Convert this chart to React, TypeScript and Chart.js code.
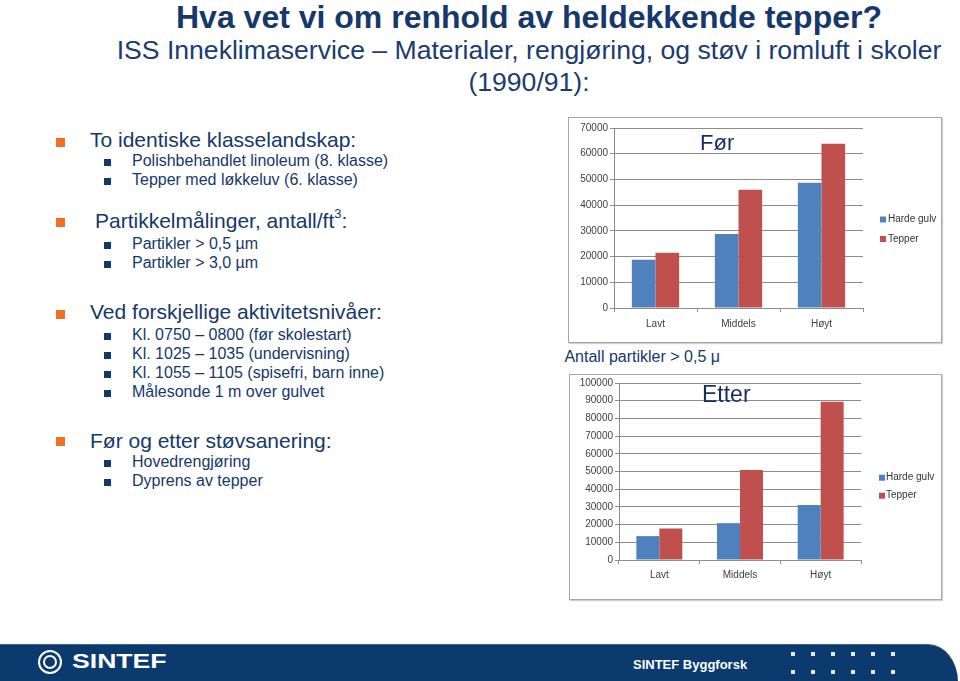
import React, { useEffect, useRef } from "react";
import { Chart, registerables } from "chart.js";

Chart.register(...registerables);

// ---- data ----
const categories = ["Lavt", "Middels", "Høyt"];
const seriesNames = ["Harde gulv", "Tepper"];
const forHardeGulv = [18800, 28800, 48700];
const forTepper = [21500, 46000, 63900];
const etterHardeGulv = [13500, 20800, 31100];
const etterTepper = [17800, 50800, 89400];
const forYMax = 70000;
const etterYMax = 100000;
const yStep = 10000;

const NAVY = "#15386b";
const ORANGE = "#f36f21";
const BLUE = "#4f81bd";
const RED = "#c0504d";
const GRID = "#8c8c8c";
const FONT = "'Liberation Sans', Arial, sans-serif";

const sideLegend = {
  id: "sideLegend",
  afterDraw(chart: any, _args: any, opts: any) {
    const ctx = chart.ctx;
    ctx.save();
    ctx.font = `10px ${FONT}`;
    ctx.textBaseline = "middle";
    chart.data.datasets.forEach((ds: any, i: number) => {
      const y = opts.y + i * opts.dy;
      ctx.fillStyle = ds.backgroundColor;
      ctx.fillRect(opts.x, y - 3, 6, 6);
      ctx.fillStyle = "#333333";
      ctx.fillText(ds.label, opts.textX, y);
    });
    ctx.restore();
  },
};

type BarProps = {
  width: number;
  height: number;
  hard: number[];
  tepper: number[];
  yMax: number;
  yAxisWidth: number;
  xAxisHeight: number;
  padTop: number;
  padRight: number;
  xLabelPad: number;
  legend: { x: number; textX: number; y: number; dy: number };
};

function BarChart(p: BarProps) {
  const ref = useRef<HTMLCanvasElement | null>(null);
  useEffect(() => {
    if (!ref.current) return;
    const chart = new Chart(ref.current, {
      type: "bar",
      data: {
        labels: categories,
        datasets: [
          { label: seriesNames[0], data: p.hard, backgroundColor: BLUE, categoryPercentage: 0.57, barPercentage: 1 },
          { label: seriesNames[1], data: p.tepper, backgroundColor: RED, categoryPercentage: 0.57, barPercentage: 1 },
        ],
      },
      options: {
        animation: false,
        responsive: false,
        devicePixelRatio: 1,
        layout: { padding: { top: p.padTop, right: p.padRight, left: 0, bottom: 0 } },
        plugins: {
          legend: { display: false },
          tooltip: { enabled: false },
          title: { display: false },
          sideLegend: p.legend,
        } as any,
        scales: {
          x: {
            grid: { display: true, drawOnChartArea: false, drawTicks: true, tickLength: 4, color: GRID, offset: true },
            border: { display: true, color: GRID, width: 1 },
            ticks: { color: "#404040", font: { family: FONT, size: 10 }, padding: p.xLabelPad },
            afterFit: (s: any) => {
              s.height = p.xAxisHeight;
            },
          },
          y: {
            min: 0,
            max: p.yMax,
            ticks: {
              stepSize: yStep,
              color: "#404040",
              font: { family: FONT, size: 10 },
              padding: 2,
              callback: (v: any) => String(v),
            },
            grid: { color: GRID, drawTicks: true, tickLength: 4, lineWidth: 1 },
            border: { display: true, color: GRID, width: 1 },
            afterFit: (s: any) => {
              s.width = p.yAxisWidth;
            },
          },
        },
      },
      plugins: [sideLegend as any],
    });
    return () => chart.destroy();
  }, []);
  return <canvas ref={ref} width={p.width} height={p.height} style={{ display: "block" }} />;
}

const abs = (left: number, top: number, extra: React.CSSProperties = {}): React.CSSProperties => ({
  position: "absolute",
  left,
  top,
  whiteSpace: "nowrap",
  ...extra,
});

function L1({ text, baseline, x = 90, bulletY }: { text: React.ReactNode; baseline: number; x?: number; bulletY: number }) {
  const fs = 21;
  return (
    <>
      <div style={abs(56, bulletY, { width: 9, height: 9, background: ORANGE })} />
      <div style={abs(x, baseline - 0.8465 * fs, { fontSize: fs, lineHeight: `${fs}px`, color: NAVY })}>{text}</div>
    </>
  );
}

function L2({ text, baseline }: { text: string; baseline: number }) {
  const fs = 16;
  return (
    <>
      <div style={abs(104, baseline - 8, { width: 7, height: 7, background: NAVY })} />
      <div style={abs(132, baseline - 0.8465 * fs, { fontSize: fs, lineHeight: `${fs}px`, color: NAVY })}>{text}</div>
    </>
  );
}

export default function App() {
  return (
    <div
      style={{
        position: "fixed",
        left: 0,
        top: 0,
        width: 960,
        height: 681,
        overflow: "hidden",
        background: "#ffffff",
        fontFamily: FONT,
      }}
    >
      {/* Title */}
      <div style={abs(0, 28 - 0.8465 * 32, { width: 1058, textAlign: "center", fontSize: 32, lineHeight: "32px", fontWeight: "bold", color: "#16386a" })}>
        Hva vet vi om renhold av heldekkende tepper?
      </div>
      <div style={abs(0, 60 - 0.8465 * 26.6, { width: 1058, textAlign: "center", fontSize: 26.6, lineHeight: "26.6px", color: "#1a3c6e" })}>
        ISS Inneklimaservice – Materialer, rengjøring, og støv i romluft i skoler
      </div>
      <div style={abs(0, 92 - 0.8465 * 26.6, { width: 1058, textAlign: "center", fontSize: 26.6, lineHeight: "26.6px", color: "#1a3c6e" })}>
        (1990/91):
      </div>

      {/* Bullets */}
      <L1 text="To identiske klasselandskap:" baseline={147} bulletY={138} />
      <L2 text="Polishbehandlet linoleum (8. klasse)" baseline={167} />
      <L2 text="Tepper med løkkeluv (6. klasse)" baseline={186} />

      <L1
        text={
          <span>
            Partikkelmålinger, antall/ft<sup style={{ fontSize: 13, verticalAlign: "top", lineHeight: "13px", position: "relative", top: -3 }}>3</sup>:
          </span>
        }
        x={95}
        baseline={228}
        bulletY={218}
      />
      <L2 text="Partikler > 0,5 µm" baseline={250} />
      <L2 text="Partikler > 3,0 µm" baseline={269} />

      <L1 text="Ved forskjellige aktivitetsnivåer:" baseline={319} bulletY={310} />
      <L2 text="Kl. 0750 – 0800 (før skolestart)" baseline={341} />
      <L2 text="Kl. 1025 – 1035 (undervisning)" baseline={360} />
      <L2 text="Kl. 1055 – 1105 (spisefri, barn inne)" baseline={379} />
      <L2 text="Målesonde 1 m over gulvet" baseline={398} />

      <L1 text="Før og etter støvsanering:" baseline={448} bulletY={437} />
      <L2 text="Hovedrengjøring" baseline={468} />
      <L2 text="Dyprens av tepper" baseline={487} />

      {/* Før chart */}
      <div style={abs(568, 117, { width: 372, height: 224, border: "1px solid #a6a6a6", boxShadow: "1px 1px 1px #d0d0d0", background: "#fff" })}>
        <BarChart
          width={372}
          height={224}
          hard={forHardeGulv}
          tepper={forTepper}
          yMax={forYMax}
          yAxisWidth={45}
          xAxisHeight={34}
          padTop={10}
          padRight={78}
          xLabelPad={6}
          legend={{ x: 311, textX: 319, y: 101.5, dy: 19.5 }}
        />
      </div>
      <div style={abs(700, 151 - 0.8465 * 22, { fontSize: 22, lineHeight: "22px", color: "#172f5f" })}>Før</div>

      <div style={abs(560, 362.5 - 0.8465 * 16, { fontSize: 16, lineHeight: "16px", color: NAVY })}>&nbsp;Antall partikler &gt; 0,5 μ</div>

      {/* Etter chart */}
      <div style={abs(569, 374, { width: 371, height: 224, border: "1px solid #a6a6a6", boxShadow: "1px 1px 1px #d0d0d0", background: "#fff" })}>
        <BarChart
          width={371}
          height={224}
          hard={etterHardeGulv}
          tepper={etterTepper}
          yMax={etterYMax}
          yAxisWidth={49}
          xAxisHeight={39}
          padTop={6}
          padRight={80}
          xLabelPad={5}
          legend={{ x: 309, textX: 316, y: 102.7, dy: 18 }}
        />
      </div>
      <div style={abs(702, 402 - 0.8465 * 23, { fontSize: 23, lineHeight: "23px", color: "#172f5f" })}>Etter</div>

      {/* Footer */}
      <div
        style={abs(0, 644, {
          width: 958,
          height: 40,
          background: "#0a3a6e",
          borderTop: "1px solid #3d6592",
          borderTopRightRadius: "30px 38px",
        })}
      />
      <div style={abs(38, 650, { width: 20, height: 20, borderRadius: "50%", border: "2px solid #fff" })} />
      <div style={abs(43, 655, { width: 10, height: 10, borderRadius: "50%", border: "2px solid #fff" })} />
      <div style={abs(72, 668 - 0.8465 * 20, { fontSize: 20, lineHeight: "20px", fontWeight: "bold", color: "#fff", transform: "scaleX(1.33)", transformOrigin: "left center" })}>
        SINTEF
      </div>
      <div style={abs(633, 669 - 0.8465 * 13, { fontSize: 13, lineHeight: "13px", fontWeight: "bold", color: "#fff" })}>SINTEF Byggforsk</div>
      {[0, 1, 2, 3, 4, 5].map((i) =>
        [652, 670].map((y) => (
          <div key={`${i}-${y}`} style={abs(791 + i * 20, y, { width: 4, height: 4, background: "#e3e9f1" })} />
        ))
      )}
    </div>
  );
}
